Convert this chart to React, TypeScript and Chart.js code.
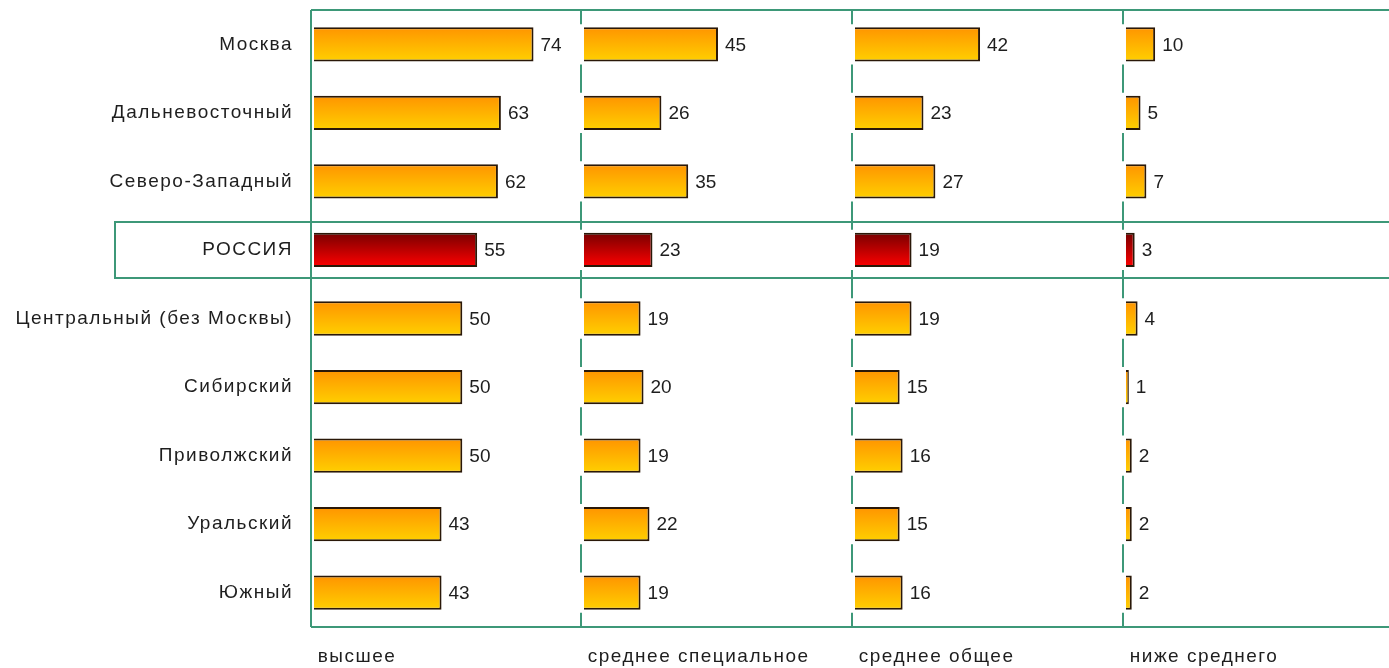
import React, { useEffect, useRef } from "react";
import { Chart, registerables } from "chart.js";

Chart.register(...registerables);

const CATEGORIES = [
  "Москва",
  "Дальневосточный",
  "Северо-Западный",
  "РОССИЯ",
  "Центральный (без Москвы)",
  "Сибирский",
  "Приволжский",
  "Уральский",
  "Южный",
];
const HIGHER = [74, 63, 62, 55, 50, 50, 50, 43, 43];
const SECONDARY_SPECIAL = [45, 26, 35, 23, 19, 20, 19, 22, 19];
const SECONDARY_GENERAL = [42, 23, 27, 19, 19, 15, 16, 15, 16];
const BELOW_SECONDARY = [10, 5, 7, 3, 4, 1, 2, 2, 2];
const PANEL_TITLES = ["высшее", "среднее специальное", "среднее общее", "ниже среднего"];
const PANEL_WEIGHTS = [270, 271, 271, 266];
const HIGHLIGHT = "РОССИЯ";
const AXIS_MIN = -1;
const AXIS_MAX = 90;

const GREEN = "#3d9878";
const FONT = "'Liberation Sans', Arial, sans-serif";
const TEXT = "#1e1e1e";

function makeFill() {
  return (c: any) => {
    const chart = c.chart;
    const ys = chart.scales && chart.scales.y;
    if (!ys || c.dataIndex === undefined || !chart.chartArea) return "#ffb000";
    const isRed = CATEGORIES[c.dataIndex] === HIGHLIGHT;
    const yc = ys.getPixelForValue(c.dataIndex);
    const half = (ys.height / CATEGORIES.length) * 0.25;
    const g = chart.ctx.createLinearGradient(0, yc - half, 0, yc + half);
    if (isRed) {
      g.addColorStop(0, "#780000");
      g.addColorStop(1, "#ff0000");
    } else {
      g.addColorStop(0, "#ff9400");
      g.addColorStop(1, "#ffd000");
    }
    return g;
  };
}

const framePlugin = {
  id: "frame",
  beforeDraw(chart: any) {
    chart.ctx.letterSpacing = "1.5px";
  },
  beforeDatasetsDraw(chart: any) {
    const ctx = chart.ctx;
    const { top, bottom, left, right } = chart.chartArea;
    const ys = chart.scales.y;
    ctx.save();
    ctx.strokeStyle = GREEN;
    ctx.lineWidth = 2;
    ctx.beginPath();
    ctx.moveTo(left, top);
    ctx.lineTo(left, bottom);
    ctx.moveTo(left, top);
    ctx.lineTo(right + 2, top);
    ctx.moveTo(left, bottom);
    ctx.lineTo(right + 2, bottom);
    ctx.stroke();
    const halfGap = (ys.height / CATEGORIES.length) * 0.25 + 3;
    for (let k = 1; k < PANEL_TITLES.length; k++) {
      const x = Math.round(chart.scales["x" + k].left);
      ctx.beginPath();
      let start = top;
      for (let i = 0; i < CATEGORIES.length; i++) {
        const yc = ys.getPixelForValue(i);
        ctx.moveTo(x, start);
        ctx.lineTo(x, yc - halfGap);
        start = yc + halfGap;
      }
      ctx.moveTo(x, start);
      ctx.lineTo(x, bottom);
      ctx.stroke();
    }
    ctx.restore();
  },
  afterDatasetsDraw(chart: any) {
    const ctx = chart.ctx;
    ctx.save();
    ctx.letterSpacing = "0px";
    ctx.font = `19px ${FONT}`;
    ctx.fillStyle = TEXT;
    ctx.textAlign = "left";
    ctx.textBaseline = "middle";
    chart.data.datasets.forEach((ds: any, di: number) => {
      const meta = chart.getDatasetMeta(di);
      meta.data.forEach((el: any, i: number) => {
        ctx.fillText(String(ds.data[i]), el.x + 7, el.y + 1);
      });
    });
    ctx.restore();
  },
  afterDraw(chart: any) {
    const ctx = chart.ctx;
    const ys = chart.scales.y;
    const idx = CATEGORIES.indexOf(HIGHLIGHT);
    const yc = ys.getPixelForValue(idx);
    ctx.save();
    ctx.strokeStyle = GREEN;
    ctx.lineWidth = 2;
    ctx.strokeRect(115, Math.round(yc) - 28, chart.width, 56);
    ctx.restore();
  },
};

export default function App() {
  const ref = useRef<HTMLCanvasElement | null>(null);

  useEffect(() => {
    if (!ref.current) return;
    const series = [HIGHER, SECONDARY_SPECIAL, SECONDARY_GENERAL, BELOW_SECONDARY];
    const scales: any = {
      y: {
        type: "category",
        position: "left",
        offset: true,
        grid: { display: false, drawTicks: false },
        border: { display: false },
        ticks: {
          padding: 18,
          color: TEXT,
          font: { family: FONT, size: 19 },
        },
        afterFit: (s: any) => {
          s.width = 311;
          s.paddingTop = 0;
          s.paddingBottom = 0;
        },
      },
    };
    series.forEach((_, k) => {
      scales["x" + k] = {
        type: "linear",
        position: "bottom",
        stack: "panels",
        stackWeight: PANEL_WEIGHTS[k],
        min: AXIS_MIN,
        max: AXIS_MAX,
        offset: false,
        grid: { display: false, drawTicks: false },
        border: { display: false },
        ticks: { display: false },
        title: {
          display: true,
          text: " " + PANEL_TITLES[k],
          align: "start",
          color: TEXT,
          font: { family: FONT, size: 19, lineHeight: 1.2 },
          padding: { top: 0, bottom: 0 },
        },
        afterFit: (s: any) => {
          s.height = 41;
          s.paddingLeft = 0;
          s.paddingRight = 0;
        },
      };
    });

    const chart = new Chart(ref.current, {
      type: "bar",
      data: {
        labels: CATEGORIES,
        datasets: series.map((data, k) => ({
          label: PANEL_TITLES[k],
          data,
          xAxisID: "x" + k,
          yAxisID: "y",
          grouped: false,
          categoryPercentage: 1,
          barPercentage: 0.5,
          backgroundColor: makeFill(),
          borderColor: "#2a1808",
          borderWidth: 2,
          borderSkipped: "start",
        })),
      },
      options: {
        indexAxis: "y",
        responsive: false,
        animation: false,
        events: [],
        layout: { padding: { top: 10, right: 0, bottom: 0, left: 0 } },
        plugins: {
          legend: { display: false },
          tooltip: { enabled: false },
          title: { display: false },
        },
        scales,
      },
      plugins: [framePlugin],
    });
    return () => chart.destroy();
  }, []);

  return (
    <div style={{ position: "fixed", left: 0, top: 0, width: 1389, height: 668, background: "#fff" }}>
      <canvas ref={ref} width={1389} height={668} style={{ display: "block" }} />
    </div>
  );
}
